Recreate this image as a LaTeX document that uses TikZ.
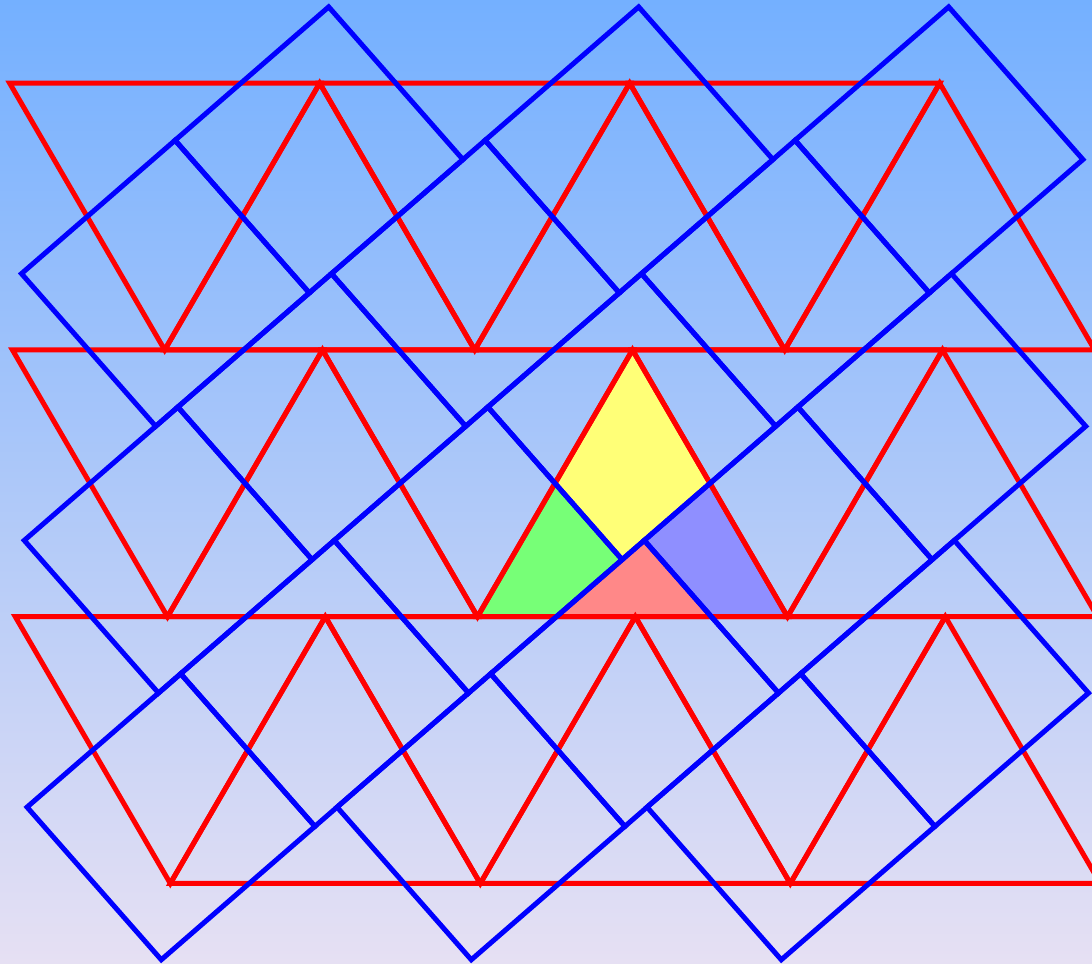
\documentclass[tikz,border=0pt]{standalone}
\definecolor{skytop}{HTML}{74B0FF}
\definecolor{lavbot}{HTML}{E6E0F3}
\definecolor{pcyellow}{HTML}{FFFF77}
\definecolor{pcgreen}{HTML}{77FF77}
\definecolor{pcpink}{HTML}{FF8888}
\definecolor{pcblue}{HTML}{8F8FFF}

\begin{document}
\begin{tikzpicture}[
  x=6.2cm, y=6.16cm,
  triline/.style={draw=red, line width=2.85pt},
  sqline/.style={draw=blue, line width=2.85pt},
  piece/.style={fill=#1},
]

% Frame and background
\coordinate (sw) at (-1.54032,-1.12435);
\coordinate (ne) at (1.98226,2.00227);
\useasboundingbox (sw) rectangle (ne);
\clip (sw) rectangle (ne);
\shade[top color=skytop, bottom color=lavbot] (sw) rectangle (ne);

% =============================================
% Dissected triangle: the four pieces
% =============================================
\coordinate (A) at (0.5,0.866025);
\coordinate (B) at (0,0);
\coordinate (C) at (1,0);
\coordinate (D) at (0.25,0.433013);
\coordinate (E) at (0.75,0.433013);
\coordinate (F) at (0.254508,0);
\coordinate (G) at (0.754508,0);
\coordinate (P) at (0.466509,0.185270);
\coordinate (Q) at (0.538002,0.247748);

\fill[piece=pcyellow] (A) -- (D) -- (P) -- (E) -- cycle;
\fill[piece=pcgreen] (D) -- (B) -- (F) -- (P) -- cycle;
\fill[piece=pcpink] (F) -- (G) -- (Q) -- cycle;
\fill[piece=pcblue] (Q) -- (E) -- (C) -- (G) -- cycle;

% =============================================
% Triangle tiling (three rows)
% =============================================
\foreach \xr/\yr in {-1.509032/1.732051, -1.5/0.866025, -1.490968/0}
  \foreach \k in {0,1,2} {
    \draw[triline] (\xr+\k,\yr) -- ++(1,0) -- ++(-0.5,-0.866025) -- cycle;
    \draw[triline] (\xr+\k+0.5,\yr-0.866025) -- ++(1,0) -- ++(-0.5,0.866025) -- cycle;
  }

% =============================================
% Square tiling (five strips along FE)
% =============================================
\begin{scope}[shift={(F)}, x={(3.072053cm,2.667358cm)}, y={(-2.684679cm,3.052233cm)}]
  \foreach \xs/\ys/\ns in {-0.860708/2/2, -1.716424/1/4, -2.572140/0/6, -1.427856/-1/4, -0.283572/-2/2}
    \foreach \j in {1,...,\ns}
      \draw[sqline] (\xs+\j-1,\ys) -- ++(1,0) -- ++(0,1) -- ++(-1,0) -- cycle;
\end{scope}

\end{tikzpicture}
\end{document}
